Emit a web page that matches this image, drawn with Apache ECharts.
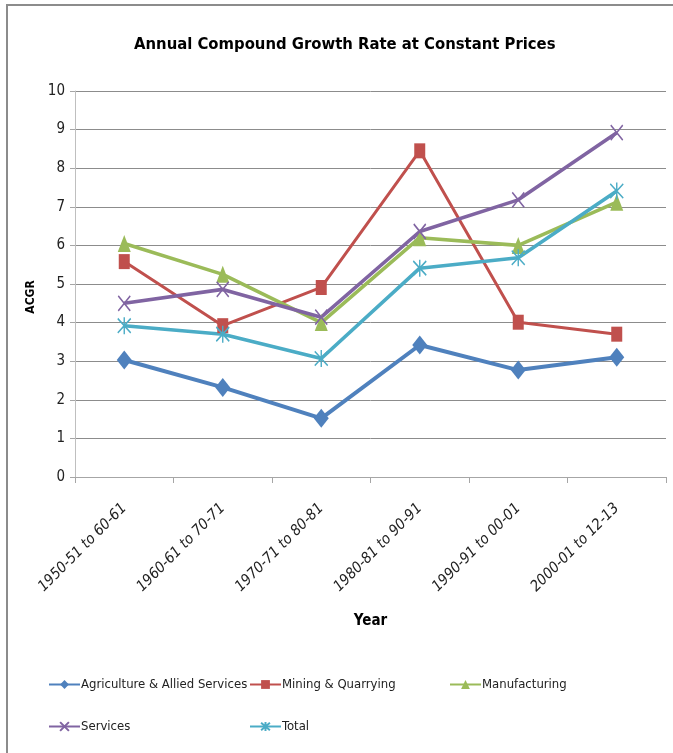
<!DOCTYPE html>
<html><head><meta charset="utf-8">
<script src="https://cdn.jsdelivr.net/npm/echarts@6/dist/echarts.min.js"></script>
<style>html,body{margin:0;padding:0;background:#fff}#c{width:673px;height:753px}</style>
</head><body><div id="c"></div>
<script>
const categories = ['1950-51 to 60-61','1960-61 to 70-71','1970-71 to 80-81','1980-81 to 90-91','1990-91 to 00-01','2000-01 to 12-13'];
const agriculture = [3.03, 2.32, 1.52, 3.42, 2.77, 3.10];
const mining = [5.58, 3.92, 4.91, 8.45, 4.01, 3.70];
const manufacturing = [6.05, 5.25, 4.0, 6.2, 6.0, 7.12];
const services = [4.5, 4.86, 4.14, 6.36, 7.18, 8.92];
const total = [3.92, 3.7, 3.07, 5.41, 5.68, 7.41];
const yTicks = [0,1,2,3,4,5,6,7,8,9,10];

const FONT = "'DejaVu Sans Condensed','Liberation Sans Narrow',sans-serif";
const X_PATH = 'path://M0,0L10,10M10,0L0,10';
const STAR_PATH = 'path://M5,0L5,10M0.8,0.8L9.2,9.2M9.2,0.8L0.8,9.2';

function mk(name, data, color, symbol, size, lw, stroked) {
  return {
    name, type: 'line', data, symbol, symbolSize: size, symbolKeepAspect: false,
    lineStyle: { color, width: lw },
    itemStyle: stroked ? { color: 'rgba(0,0,0,0)', borderColor: color, borderWidth: 1.6 } : { color, borderWidth: 0 },
    emphasis: { disabled: true }, z: 3
  };
}
const series = [
  mk('Agriculture & Allied Services', agriculture, '#4F81BD', 'diamond', [15,19], 4, false),
  mk('Mining & Quarrying', mining, '#C0504D', 'rect', [11,15], 3, false),
  mk('Manufacturing', manufacturing, '#9BBB59', 'triangle', [13,17], 3.6, false),
  mk('Services', services, '#8064A2', X_PATH, [12,15], 3.6, true),
  mk('Total', total, '#4BACC6', STAR_PATH, [13,17], 3.6, true)
];
const legendPos = [[43,673],[244,673],[444,673],[43,715],[244,715]];
const legends = series.map((s,i)=>({
  data:[s.name], left: legendPos[i][0], top: legendPos[i][1], itemWidth: 31, itemHeight: 11, itemGap: 0,
  textStyle:{fontFamily:FONT,fontSize:13,color:'#222', padding:[0,0,0,-4]}, selectedMode:false
}));

const chart = echarts.init(document.getElementById('c'), null, {renderer:'canvas'});
chart.setOption({
  animation: false,
  backgroundColor: '#fff',
  title: { text: 'Annual Compound Growth Rate at Constant Prices', left: 129, top: 31,
    textStyle: { fontFamily: FONT, fontSize: 16.5, fontWeight: 'bold', color: '#000' } },
  graphic: [{ type: 'rect', shape: { x: 7, y: 5, width: 700, height: 800 }, style: { fill: 'none', stroke: '#8c8c8c', lineWidth: 2 }, silent: true }],
  legend: legends,
  grid: { left: 75, right: 7, top: 91, bottom: 276 },
  xAxis: {
    type: 'category', data: categories, boundaryGap: true,
    name: 'Year', nameLocation: 'middle', nameGap: 137,
    nameTextStyle: { fontFamily: FONT, fontSize: 15, fontWeight: 'bold', color: '#000' },
    axisLine: { lineStyle: { color: '#a6a6a6', width: 1 } },
    axisTick: { show: true, alignWithLabel: false, length: 6, lineStyle: { color: '#a6a6a6' } },
    axisLabel: { rotate: 45, margin: 29, fontFamily: FONT, fontSize: 15, fontStyle: 'italic', color: '#222' }
  },
  yAxis: {
    type: 'value', min: 0, max: 10, interval: 1,
    name: 'ACGR', nameLocation: 'middle', nameGap: 33, nameRotate: 90,
    nameTextStyle: { fontFamily: FONT, fontSize: 12, fontWeight: 'bold', color: '#000', padding: [0, 26, 0, 0] },
    axisLine: { show: true, lineStyle: { color: '#bfbfbf', width: 1 } },
    axisTick: { show: true, length: 5, lineStyle: { color: '#a6a6a6' } },
    axisLabel: { margin: 10, fontFamily: FONT, fontSize: 15, color: '#222',
      formatter: v => yTicks.includes(v) ? String(v) : '' },
    splitLine: { lineStyle: { color: '#8c8c8c', width: 1 } }
  },
  series
});
</script></body></html>
